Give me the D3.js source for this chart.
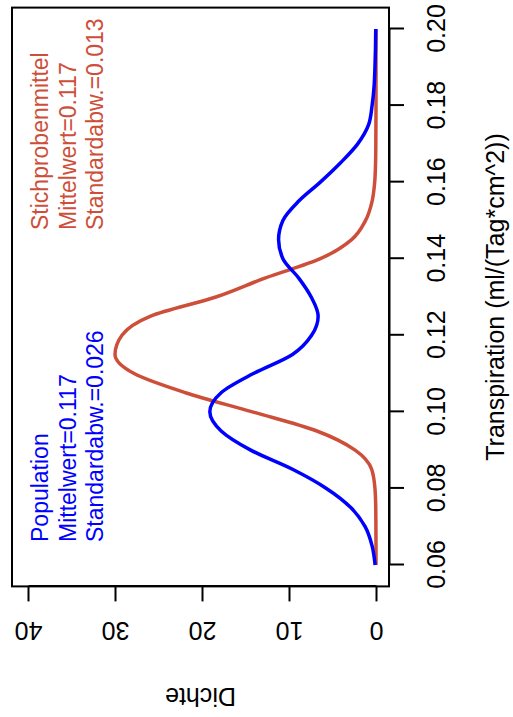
<!DOCTYPE html>
<html><head><meta charset="utf-8">
<script src="https://cdn.jsdelivr.net/npm/d3@7/dist/d3.min.js"></script>
<style>body{margin:0;background:#fff;overflow:hidden} svg{display:block}</style>
</head><body>
<script>
// ---- data ----
const transpiration = [0.060,0.065,0.070,0.075,0.080,0.085,0.090,0.095,0.100,0.105,0.110,0.115,0.120,0.125,0.130,0.135,0.140,0.145,0.150,0.155,0.160,0.165,0.170,0.175,0.180,0.185,0.190,0.195,0.200];
const populationDensity = [0.10,0.45,1.25,2.9,5.7,9.6,14.4,17.8,19.1,17.8,14.1,9.6,7.4,6.65,7.45,8.9,10.7,11.2,10.7,8.9,6.4,4.1,2.1,0.85,0.45,0.22,0.12,0.06,0.03];
const sampleMeanDensity = [0.00,0.00,0.01,0.03,0.12,0.5,2.4,6.8,14.2,21.9,27.8,30.0,29.2,25.9,18.4,12.7,6.4,2.8,1.2,0.45,0.15,0.05,0.02,0.01,0.0,0.0,0.0,0.0,0.0];
const xTickValues = [0.06,0.08,0.10,0.12,0.14,0.16,0.18,0.20];
const yTickValues = [0,10,20,30,40];
const populationLabel = ["Population","Mittelwert=0.117","Standardabw.=0.026"];
const sampleLabel = ["Stichprobenmittel","Mittelwert=0.117","Standardabw.=0.013"];
const xTitle = "Transpiration (ml/(Tag*cm^2))";
const yTitle = "Dichte";

// ---- layout (chart drawn in R orientation, then rotated) ----
const SW = 513, SH = 717;          // screen
const FONT = "'Liberation Sans', Arial, Helvetica, sans-serif";
const RED = "#CD4F39", BLUE = "#0000FF";

const x = d3.scaleLinear().domain([0.06, 0.20]).range([152, 688]);
const y = d3.scaleLinear().domain([0, 40]).range([376, 28]);
const box = {l: 130.6, r: 709.4, t: 12, b: 389};

const svg = d3.select("body").append("svg").attr("width", SW).attr("height", SH);
svg.append("rect").attr("width", SW).attr("height", SH).attr("fill", "#fff");
const g = svg.append("g").attr("transform", `translate(0,${SH}) rotate(-90)`)
  .style("font-family", FONT);

// curves
const idx = d3.range(transpiration.length);
const line = arr => d3.line().x(i => x(transpiration[i])).y(i => y(arr[i])).curve(d3.curveMonotoneX)(idx);
g.append("path").attr("d", line(sampleMeanDensity)).attr("fill", "none")
  .attr("stroke", RED).attr("stroke-width", 3.5).attr("stroke-linejoin", "round");
g.append("path").attr("d", line(populationDensity)).attr("fill", "none")
  .attr("stroke", BLUE).attr("stroke-width", 3.5).attr("stroke-linejoin", "round");

// box
g.append("rect").attr("x", box.l).attr("y", box.t).attr("width", box.r - box.l).attr("height", box.b - box.t)
  .attr("fill", "none").attr("stroke", "#000").attr("stroke-width", 2);

// x axis (bottom in R orientation)
const xa = g.append("g").attr("transform", `translate(0,${box.b})`)
  .call(d3.axisBottom(x).tickValues(xTickValues).tickFormat(d3.format(".2f")).tickSize(15).tickSizeOuter(0));
xa.select(".domain").attr("stroke-width", 2);
xa.selectAll(".tick line").attr("stroke-width", 2);
xa.selectAll(".tick text").attr("y", 47).attr("dy", null).attr("dominant-baseline", "central")
  .style("font-size", "25px").style("font-family", FONT).attr("fill", "#000");

// y axis (left in R orientation), labels parallel to axis
const ya = g.append("g").attr("transform", `translate(${box.l},0)`)
  .call(d3.axisLeft(y).tickValues(yTickValues).tickFormat(d3.format("d")).tickSize(15).tickSizeOuter(0));
ya.select(".domain").attr("stroke-width", 2);
ya.selectAll(".tick line").attr("stroke-width", 2);
ya.selectAll(".tick text").attr("x", 0).attr("dy", null)
  .attr("transform", "translate(-45,0) rotate(-90)")
  .attr("text-anchor", "middle").attr("dominant-baseline", "central")
  .style("font-size", "25px").style("font-family", FONT).attr("fill", "#000");

// axis titles
g.append("text").attr("x", (box.l + box.r) / 2).attr("y", 495)
  .attr("text-anchor", "middle").attr("dominant-baseline", "central")
  .style("font-size", "25px").text(xTitle);
g.append("text").attr("transform", `translate(20,${(box.t + box.b) / 2}) rotate(-90)`)
  .attr("text-anchor", "middle").attr("dominant-baseline", "central")
  .style("font-size", "25px").text(yTitle);

// legends
const lineV = [40, 67.5, 95];
g.append("g").selectAll("text").data(populationLabel).join("text")
  .attr("x", 175).attr("y", (d, i) => lineV[i]).attr("dominant-baseline", "central")
  .attr("fill", BLUE).style("font-size", "23px").text(d => d);
g.append("g").selectAll("text").data(sampleLabel).join("text")
  .attr("x", 487).attr("y", (d, i) => lineV[i]).attr("dominant-baseline", "central")
  .attr("fill", RED).style("font-size", "23px").text(d => d);
</script>
</body></html>
